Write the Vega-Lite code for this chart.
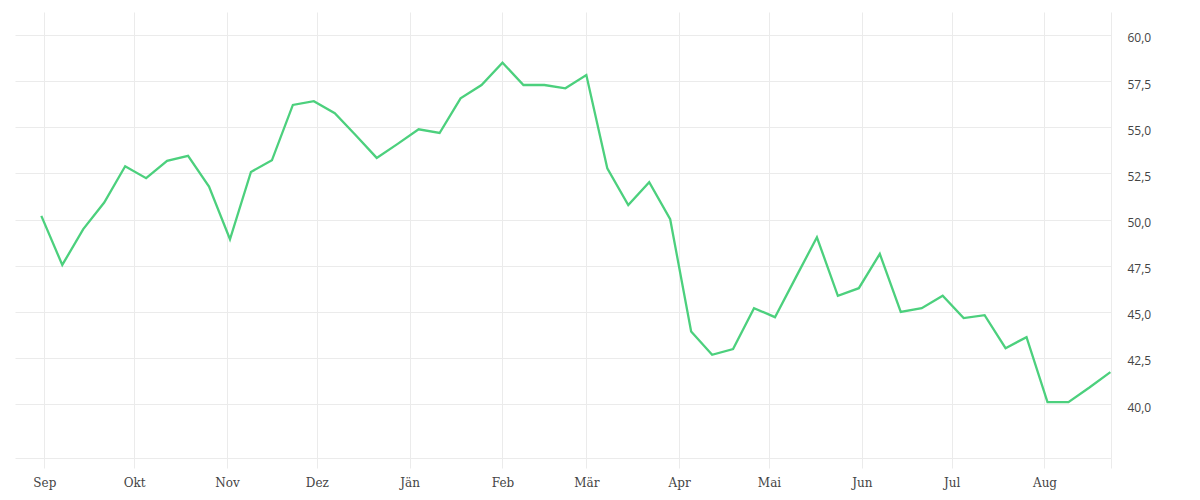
{
  "$schema": "https://vega.github.io/schema/vega-lite/v6.json",
  "width": 1096,
  "height": 446,
  "autosize": {"type": "none"},
  "padding": {"left": 15, "top": 12, "right": 89, "bottom": 42},
  "background": "white",
  "config": {"view": {"stroke": null}},
  "data": {
    "values": [
      {"date": "2022-08-31", "value": 50.20},
      {"date": "2022-09-07", "value": 47.54},
      {"date": "2022-09-14", "value": 49.48},
      {"date": "2022-09-21", "value": 50.92},
      {"date": "2022-09-28", "value": 52.89},
      {"date": "2022-10-05", "value": 52.24},
      {"date": "2022-10-12", "value": 53.18},
      {"date": "2022-10-19", "value": 53.45},
      {"date": "2022-10-26", "value": 51.79},
      {"date": "2022-11-02", "value": 48.93},
      {"date": "2022-11-09", "value": 52.58},
      {"date": "2022-11-16", "value": 53.21},
      {"date": "2022-11-23", "value": 56.21},
      {"date": "2022-11-30", "value": 56.41},
      {"date": "2022-12-07", "value": 55.76},
      {"date": "2022-12-14", "value": 54.57},
      {"date": "2022-12-21", "value": 53.34},
      {"date": "2022-12-28", "value": 54.10},
      {"date": "2023-01-04", "value": 54.89},
      {"date": "2023-01-11", "value": 54.69},
      {"date": "2023-01-18", "value": 56.57},
      {"date": "2023-01-25", "value": 57.29},
      {"date": "2023-02-01", "value": 58.50},
      {"date": "2023-02-08", "value": 57.29},
      {"date": "2023-02-15", "value": 57.29},
      {"date": "2023-02-22", "value": 57.11},
      {"date": "2023-03-01", "value": 57.83},
      {"date": "2023-03-08", "value": 52.78},
      {"date": "2023-03-15", "value": 50.78},
      {"date": "2023-03-22", "value": 52.02},
      {"date": "2023-03-29", "value": 50.02},
      {"date": "2023-04-05", "value": 43.93},
      {"date": "2023-04-12", "value": 42.67},
      {"date": "2023-04-19", "value": 42.98},
      {"date": "2023-04-26", "value": 45.20},
      {"date": "2023-05-03", "value": 44.71},
      {"date": "2023-05-10", "value": 46.88},
      {"date": "2023-05-17", "value": 49.04},
      {"date": "2023-05-24", "value": 45.87},
      {"date": "2023-05-31", "value": 46.28},
      {"date": "2023-06-07", "value": 48.14},
      {"date": "2023-06-14", "value": 45.00},
      {"date": "2023-06-21", "value": 45.20},
      {"date": "2023-06-28", "value": 45.87},
      {"date": "2023-07-05", "value": 44.66},
      {"date": "2023-07-12", "value": 44.82},
      {"date": "2023-07-19", "value": 43.03},
      {"date": "2023-07-26", "value": 43.63},
      {"date": "2023-08-02", "value": 40.11},
      {"date": "2023-08-09", "value": 40.11},
      {"date": "2023-08-16", "value": 40.90},
      {"date": "2023-08-23", "value": 41.73}
    ]
  },
  "mark": {"type": "line", "color": "#4cd07d", "strokeWidth": 2.3},
  "encoding": {
    "x": {
      "field": "date",
      "type": "temporal",
      "scale": {
        "type": "utc",
        "domain": [
          {"year": 2022, "month": 8, "date": 22, "hours": 5, "utc": true},
          {"year": 2023, "month": 8, "date": 23, "hours": 5, "utc": true}
        ]
      },
      "axis": {
        "title": null,
        "values": [
          {"year": 2022, "month": 9, "date": 1, "utc": true},
          {"year": 2022, "month": 10, "date": 1, "utc": true},
          {"year": 2022, "month": 11, "date": 1, "utc": true},
          {"year": 2022, "month": 12, "date": 1, "utc": true},
          {"year": 2023, "month": 1, "date": 1, "utc": true},
          {"year": 2023, "month": 2, "date": 1, "utc": true},
          {"year": 2023, "month": 3, "date": 1, "utc": true},
          {"year": 2023, "month": 4, "date": 1, "utc": true},
          {"year": 2023, "month": 5, "date": 1, "utc": true},
          {"year": 2023, "month": 6, "date": 1, "utc": true},
          {"year": 2023, "month": 7, "date": 1, "utc": true},
          {"year": 2023, "month": 8, "date": 1, "utc": true},
          {"year": 2023, "month": 8, "date": 23, "hours": 4, "utc": true}
        ],
        "labelExpr": "utcdate(datum.value) == 1 ? ['Jän','Feb','Mär','Apr','Mai','Jun','Jul','Aug','Sep','Okt','Nov','Dez'][utcmonth(datum.value)] : ''",
        "grid": true,
        "gridColor": "#ebebeb",
        "gridWidth": 1,
        "ticks": true,
        "tickColor": "#ebebeb",
        "tickSize": 10,
        "domain": true,
        "domainColor": "#ebebeb",
        "domainWidth": 1,
        "labelFont": "DejaVu Serif",
        "labelFontSize": 12,
        "labelColor": "#444444",
        "labelPadding": 9,
        "labelOverlap": false,
        "labelFlush": false
      }
    },
    "y": {
      "field": "value",
      "type": "quantitative",
      "scale": {"domain": [37.08, 61.245], "zero": false, "nice": false},
      "axis": {
        "title": null,
        "orient": "right",
        "values": [40, 42.5, 45, 47.5, 50, 52.5, 55, 57.5, 60],
        "labelExpr": "replace(format(datum.value, '.1f'), '.', ',')",
        "grid": true,
        "gridColor": "#ebebeb",
        "gridWidth": 1,
        "ticks": false,
        "domain": false,
        "labelFont": "Open Sans",
        "labelFontSize": 12,
        "labelColor": "#444444",
        "labelPadding": 16,
        "labelOffset": 3
      }
    }
  }
}
